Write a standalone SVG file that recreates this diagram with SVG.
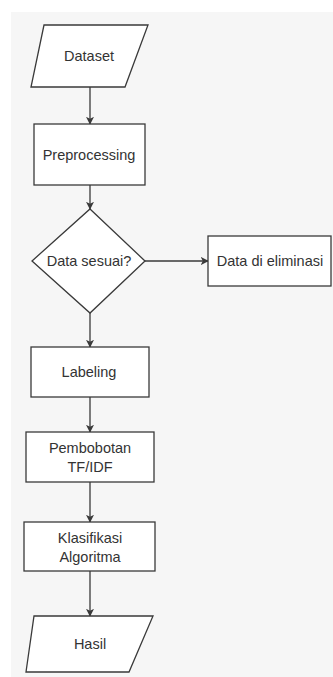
<svg xmlns="http://www.w3.org/2000/svg" width="333" height="677" viewBox="0 0 333 677">
<defs>
<style>
.shape{fill:#ffffff;stroke:#3a3a3a;stroke-width:1.3}
.lbl{font-family:"Liberation Sans",Arial,sans-serif;font-size:14.5px;fill:#333333;text-anchor:middle;dominant-baseline:central}
.conn{stroke:#3a3a3a;stroke-width:1.3;fill:none}
</style>
<marker id="arr" viewBox="0 0 10 10" refX="9" refY="5" markerWidth="8" markerHeight="8" markerUnits="userSpaceOnUse" orient="auto">
<path d="M0,0 L10,5 L0,10 L2.5,5 Z" fill="#3a3a3a"/>
</marker>
</defs>
<rect x="0" y="0" width="333" height="677" fill="#ffffff"/>
<rect x="11" y="12" width="322" height="665" fill="#f6f6f6"/>
<g id="connectors">
<line class="conn" x1="90" y1="87" x2="90" y2="124" marker-end="url(#arr)"/>
<line class="conn" x1="90" y1="185" x2="90" y2="209" marker-end="url(#arr)"/>
<line class="conn" x1="145" y1="261" x2="208" y2="261" marker-end="url(#arr)"/>
<line class="conn" x1="90" y1="313" x2="90" y2="347" marker-end="url(#arr)"/>
<line class="conn" x1="90" y1="397" x2="90" y2="432" marker-end="url(#arr)"/>
<line class="conn" x1="90" y1="482" x2="90" y2="522" marker-end="url(#arr)"/>
<line class="conn" x1="90" y1="571" x2="90" y2="616" marker-end="url(#arr)"/>
</g>
<g id="dataset">
<polygon class="shape" points="44,25 148,25 125,87 31,87"/>
<text class="lbl" x="89" y="56">Dataset</text>
</g>
<g id="preprocessing">
<rect class="shape" x="34" y="124" width="111" height="61"/>
<text class="lbl" x="89" y="155">Preprocessing</text>
</g>
<g id="decision">
<polygon class="shape" points="90,209 145,261 90,313 32,261"/>
<text class="lbl" x="89" y="261">Data sesuai?</text>
</g>
<g id="eliminasi">
<rect class="shape" x="208" y="236" width="123" height="50"/>
<text class="lbl" x="270" y="261">Data di eliminasi</text>
</g>
<g id="labeling">
<rect class="shape" x="31" y="347" width="118" height="50"/>
<text class="lbl" x="89" y="372">Labeling</text>
</g>
<g id="pembobotan">
<rect class="shape" x="26" y="432" width="128" height="50"/>
<text class="lbl" x="90" y="448">Pembobotan</text>
<text class="lbl" x="90" y="467">TF/IDF</text>
</g>
<g id="klasifikasi">
<rect class="shape" x="24" y="522" width="131" height="49"/>
<text class="lbl" x="90" y="538">Klasifikasi</text>
<text class="lbl" x="90" y="557">Algoritma</text>
</g>
<g id="hasil">
<polygon class="shape" points="34,616 153,616 129,672 26,672"/>
<text class="lbl" x="90" y="644">Hasil</text>
</g>
</svg>
